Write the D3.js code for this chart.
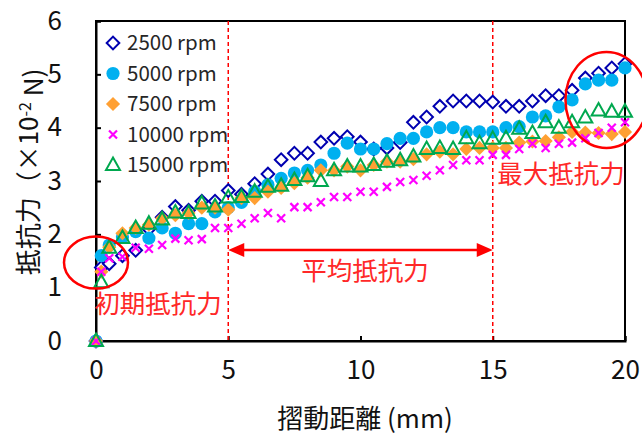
<!DOCTYPE html>
<html><head><meta charset="utf-8">
<script src="https://cdn.jsdelivr.net/npm/d3@7"></script>
<style>body{margin:0;background:#fff}svg{display:block}text{font-family:"Noto Sans CJK JP","Noto Sans",sans-serif}</style>
</head><body><div id="c"></div>
<script>
const distance = [0,0.2,0.5,1,1.5,2,2.5,3,3.5,4,4.5,5,5.5,6,6.5,7,7.5,8,8.5,9,9.5,10,10.5,11,11.5,12,12.5,13,13.5,14,14.5,15,15.5,16,16.5,17,17.5,18,18.5,19,19.5,20];
const rpm2500  = [0,1.38,1.45,1.6,1.7,2.1,2.32,2.52,2.45,2.62,2.62,2.82,2.75,2.95,3.13,3.4,3.52,3.52,3.73,3.8,3.83,3.73,3.6,3.62,3.72,4.1,4.2,4.4,4.5,4.5,4.5,4.48,4.4,4.4,4.5,4.6,4.6,4.7,4.93,5.02,5.12,5.2];
const rpm5000  = [0,1.6,1.8,1.95,2.05,1.93,2.12,2.02,2.2,2.2,2.42,2.5,2.6,2.8,2.93,3.05,3.15,3.2,3.3,3.52,3.71,3.6,3.6,3.7,3.8,3.8,3.92,4.0,4.0,3.92,3.92,3.92,4.0,4.02,4.2,4.22,4.39,4.52,4.82,4.89,4.89,5.12];
const rpm7500  = [0,1.3,1.76,2.02,2.12,2.18,2.3,2.36,2.4,2.5,2.5,2.46,2.68,2.68,2.8,2.87,2.96,3.06,3.2,3.2,3.27,3.2,3.3,3.36,3.36,3.41,3.5,3.55,3.5,3.6,3.62,3.62,3.62,3.72,3.74,3.75,3.82,3.92,3.91,3.9,3.88,3.92];
const rpm10000 = [0,1.3,1.55,1.58,1.75,1.73,1.8,1.92,1.89,1.91,2.12,2.12,2.2,2.3,2.4,2.3,2.51,2.51,2.6,2.7,2.7,2.8,2.8,2.89,2.98,3.02,3.1,3.2,3.3,3.39,3.39,3.49,3.49,3.6,3.7,3.62,3.7,3.72,3.8,3.9,4.0,4.1];
const rpm15000 = [0,1.1,1.75,1.93,2.12,2.2,2.28,2.41,2.4,2.58,2.52,2.69,2.7,2.8,2.89,2.91,3.02,3.09,3.0,3.2,3.27,3.27,3.3,3.36,3.39,3.46,3.6,3.62,3.6,3.8,3.71,3.79,3.8,3.98,3.9,4.1,4.0,4.1,4.19,4.32,4.3,4.3];
const seriesNames = ["2500 rpm","5000 rpm","7500 rpm","10000 rpm","15000 rpm"];
const xTicks = [0,5,10,15,20];
const yTicks = [0,1,2,3,4,5,6];
const xTitle = "摺動距離 (mm)";
const annoLabels = ["初期抵抗力","平均抵抗力","最大抵抗力"];
const rangeBounds = [5,15];

const W=642,H=436, L=96,T=21,R=625,B=341;
const svg=d3.select("#c").append("svg").attr("width",W).attr("height",H);
const x=d3.scaleLinear().domain([0,20]).range([L,R]);
const y=d3.scaleLinear().domain([0,6]).range([B,T]);

svg.append("rect").attr("x",L).attr("y",T).attr("width",R-L).attr("height",B-T)
  .attr("fill","none").attr("stroke","#000").attr("stroke-width",2);

const gx=svg.append("g").attr("transform",`translate(0,${B})`)
  .call(d3.axisBottom(x).tickValues(xTicks).tickSize(-5).tickPadding(16).tickFormat(d3.format("d")));
const gy=svg.append("g").attr("transform",`translate(${L},0)`)
  .call(d3.axisLeft(y).tickValues(yTicks).tickSize(-5).tickPadding(34).tickFormat(d3.format("d")));
[gx,gy].forEach(g=>{
  g.select(".domain").attr("stroke","#000").attr("stroke-width",2);
  g.selectAll(".tick line").attr("stroke","#000").attr("stroke-width",2);
  g.selectAll(".tick text").attr("fill","#111").style("font-size","26px");
});
gx.selectAll(".tick text").attr("dy","0.85em");

svg.selectAll("line.vd").data(rangeBounds).enter().append("line")
  .attr("x1",d=>x(d)).attr("x2",d=>x(d)).attr("y1",T).attr("y2",B)
  .attr("stroke","#ff0000").attr("stroke-width",1.5).attr("stroke-dasharray","4,3");

const all=[rpm2500,rpm5000,rpm7500,rpm10000,rpm15000];
const sq=(s)=>d3.symbol(d3.symbolSquare,s)();
const styles=[
 {draw:(g)=>g.append("path").attr("d",sq(80)).attr("transform","rotate(45)").attr("fill","#fff").attr("stroke","#0000b0").attr("stroke-width",2)},
 {draw:(g)=>g.append("circle").attr("r",6.6).attr("fill","#00b0f0")},
 {draw:(g)=>g.append("path").attr("d",sq(100)).attr("transform","rotate(45)").attr("fill","#ffa033")},
 {draw:(g)=>g.append("path").attr("d","M-4,-4L4,4M-4,4L4,-4").attr("stroke","#ff00ff").attr("stroke-width",2.2).attr("fill","none")},
 {draw:(g)=>g.append("path").attr("d","M0,-7.5L7,5L-7,5Z").attr("fill","none").attr("stroke","#00a84f").attr("stroke-width",2)}
];
all.forEach((vals,si)=>{
  const g=svg.append("g");
  vals.forEach((v,i)=>{
    const m=g.append("g").attr("transform",`translate(${x(distance[i])},${y(v)})`);
    styles[si].draw(m);
  });
});

seriesNames.forEach((n,i)=>{
  const yy=43+i*30.5;
  const m=svg.append("g").attr("transform",`translate(113,${yy})`);
  styles[i].draw(m);
  svg.append("text").attr("x",127).attr("y",yy).attr("dy","0.36em").attr("fill","#262626")
    .style("font-size","20.5px").text(n);
});

const ay=250;
svg.append("line").attr("x1",x(rangeBounds[0])+12).attr("x2",x(rangeBounds[1])-12).attr("y1",ay).attr("y2",ay)
  .attr("stroke","#ff0000").attr("stroke-width",2.5);
svg.append("path").attr("fill","#ff0000")
  .attr("d",`M${x(rangeBounds[0])},${ay}l16,-7l0,14Z M${x(rangeBounds[1])},${ay}l-16,-7l0,14Z`);

svg.append("ellipse").attr("cx",x(0)).attr("cy",y(1.47)).attr("rx",32).attr("ry",26)
  .attr("fill","none").attr("stroke","#ff0000").attr("stroke-width",2.5);
svg.append("ellipse").attr("cx",x(19.3)).attr("cy",y(4.52)).attr("rx",41).attr("ry",48)
  .attr("fill","none").attr("stroke","#ff0000").attr("stroke-width",2.5);

const ann=[[158,313,annoLabels[0]],[365,280,annoLabels[1]],[561,183,annoLabels[2]]];
ann.forEach(a=>svg.append("text").attr("x",a[0]).attr("y",a[1]).attr("text-anchor","middle")
  .attr("fill","#ff2828").style("font-size","25.5px").text(a[2]));

svg.append("text").attr("x",365).attr("y",428).attr("text-anchor","middle").attr("fill","#111")
  .style("font-size","26px").text(xTitle);
const yt=svg.append("text").attr("transform","translate(38,172) rotate(-90)").attr("text-anchor","middle")
  .attr("fill","#111").style("font-size","26px");
yt.append("tspan").text("抵抗力（×10");
yt.append("tspan").attr("dy","-0.45em").style("font-size","16px").text("-2");
yt.append("tspan").attr("dy","0.45em").text(" N)");
</script></body></html>
